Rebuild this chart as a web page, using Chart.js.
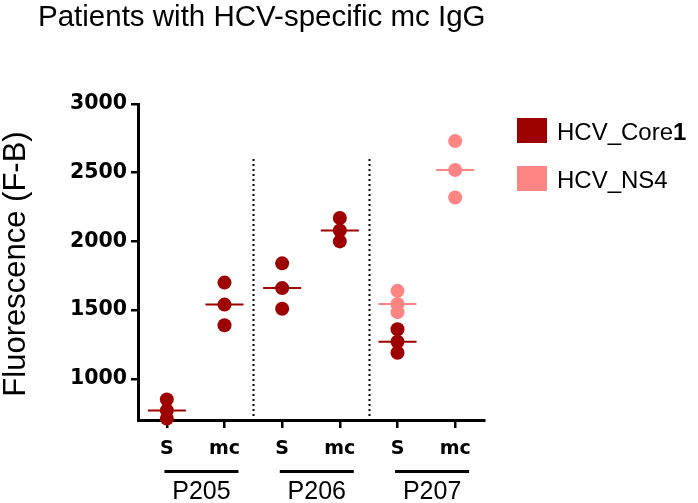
<!DOCTYPE html>
<html>
<head>
<meta charset="utf-8">
<script src="https://cdn.jsdelivr.net/npm/chart.js@4"></script>
<style>
  html,body{margin:0;padding:0;background:#fff;}
  #wrap{width:698px;height:503px;position:relative;}
</style>
</head>
<body>
<div id="wrap"><canvas id="c" width="698" height="503"></canvas></div>
<script>
/* ── data ── */
const titleText = 'Patients with HCV-specific mc IgG';
const yTitle    = 'Fluorescence (F-B)';
const xLabels   = ['S','mc','S','mc','S','mc'];
const groups    = ['P205','P206','P207'];
const yTicks    = [1000,1500,2000,2500,3000];

// values per x position (one list per category slot)
const coreVals = [[850,770,710],[1700,1540,1390],[1840,1660,1510],[2170,2080,2000],[1360,1270,1190],[]];
const ns4Vals  = [[],[],[],[],[1640,1545,1485],[2730,2520,2320]];

const CORE = '#9e0000', NS4 = '#ff8585';
const FONT = '"Liberation Sans", Arial, sans-serif';
const BOLD = '"DejaVu Sans", sans-serif';

const median = a=>{const s=[...a].sort((p,q)=>p-q);return s[Math.floor(s.length/2)];};
const toPoints = vals=>vals.flatMap((arr,i)=>arr.map(v=>({x:i,y:v})));
const medianSets = (vals,color)=>vals.map((arr,i)=>arr.length?{
  type:'line', data:[{x:i-0.33,y:median(arr)},{x:i+0.33,y:median(arr)}],
  borderColor:color, borderWidth:2, pointRadius:0, showLine:true, clip:false, order:2
}:null).filter(Boolean);

/* ── extra drawing: title, y title, separators, group labels, legend ── */
const decor = {
  id:'decor',
  beforeDatasetsDraw(chart){
    const {ctx, scales:{x,y}} = chart;
    ctx.save();
    ctx.strokeStyle='#000'; ctx.lineWidth=2; ctx.setLineDash([2,3]);
    [1.5,3.5].forEach(v=>{
      const px = Math.round(x.getPixelForValue(v))+0.5;
      ctx.beginPath(); ctx.moveTo(px,y.getPixelForValue(2600)); ctx.lineTo(px,y.bottom); ctx.stroke();
    });
    ctx.restore();
  },
  afterDraw(chart){
    const {ctx, scales:{x,y}} = chart;
    ctx.save();
    ctx.fillStyle='#000';
    // title
    ctx.font='29.5px '+FONT; ctx.textAlign='left'; ctx.textBaseline='alphabetic';
    ctx.fillText(titleText,38,26);
    // y title
    ctx.save();
    ctx.translate(25,264); ctx.rotate(-Math.PI/2);
    ctx.font='31px '+FONT; ctx.textAlign='center';
    ctx.fillText(yTitle,0,0);
    ctx.restore();
    // group lines + labels
    groups.forEach((g,i)=>{
      const c = x.getPixelForValue(i*2+0.6);
      ctx.fillRect(c-37,470,74,3);
      ctx.font='25px '+FONT; ctx.textAlign='center';
      ctx.fillText(g,c,499);
    });
    // legend
    const items=[{c:CORE,t:'HCV_Core',b:'1'},{c:NS4,t:'HCV_NS4',b:''}];
    items.forEach((it,i)=>{
      const top = 118+i*48;
      ctx.fillStyle=it.c; ctx.fillRect(517,top,30,25);
      ctx.fillStyle='#000'; ctx.textAlign='left';
      ctx.font='24px '+FONT; ctx.fillText(it.t,557,top+22);
      if(it.b){
        const w=ctx.measureText(it.t).width;
        ctx.font='bold 24px '+FONT; ctx.fillText(it.b,557+w,top+22);
      }
    });
    ctx.restore();
  }
};

new Chart(document.getElementById('c'),{
  type:'scatter',
  data:{datasets:[
    {data:toPoints(coreVals), backgroundColor:CORE, borderWidth:0, pointRadius:7, pointHoverRadius:7, clip:false, order:1},
    {data:toPoints(ns4Vals),  backgroundColor:NS4,  borderWidth:0, pointRadius:7, pointHoverRadius:7, clip:false, order:1},
    ...medianSets(coreVals,CORE),
    ...medianSets(ns4Vals,NS4)
  ]},
  options:{
    responsive:false, animation:false,
    layout:{padding:{top:104,right:214,left:0,bottom:0}},
    plugins:{legend:{display:false}, tooltip:{enabled:false}, title:{display:false}},
    scales:{
      x:{type:'linear', min:-0.5, max:5.5,
        afterBuildTicks:s=>{s.ticks=xLabels.map((_,i)=>({value:i}));},
        afterFit:s=>{s.height=83;},
        ticks:{callback:(v)=>xLabels[v]??'', color:'#000', font:{family:BOLD,size:19,weight:'bold'}, padding:10, maxRotation:0},
        grid:{drawOnChartArea:false, drawTicks:true, tickLength:8, color:'#000', lineWidth:2.5},
        border:{display:true, color:'#000', width:3}
      },
      y:{min:700, max:3000,
        afterBuildTicks:s=>{s.ticks=yTicks.map(v=>({value:v}));},
        afterFit:s=>{s.width=138;},
        ticks:{callback:v=>String(v), color:'#000', font:{family:BOLD,size:20.5,weight:'bold'}, padding:4},
        grid:{drawOnChartArea:false, drawTicks:true, tickLength:7, color:'#000', lineWidth:2.5},
        border:{display:true, color:'#000', width:3}
      }
    }
  },
  plugins:[decor]
});
</script>
</body>
</html>
